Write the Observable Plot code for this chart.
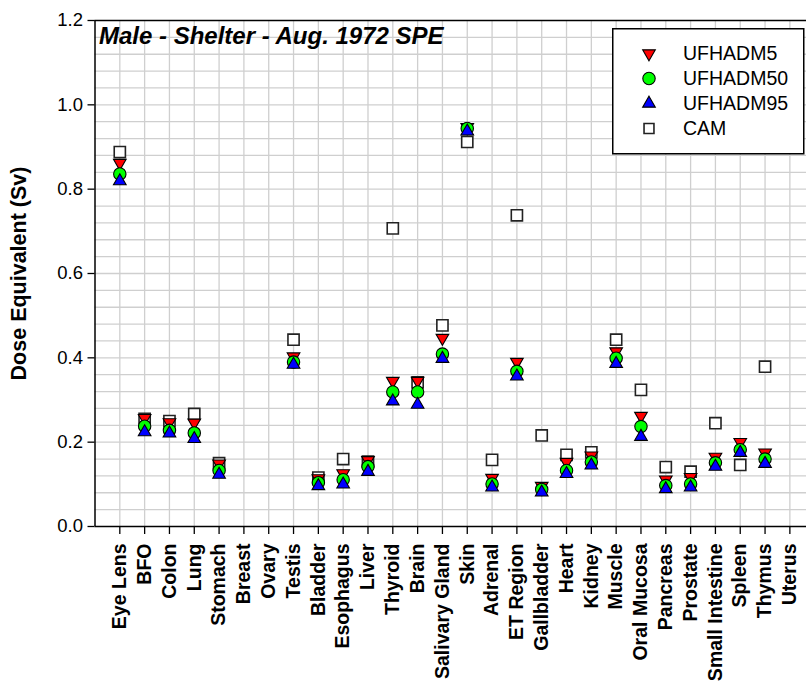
<!DOCTYPE html>
<html><head><meta charset="utf-8">
<script src="https://cdn.jsdelivr.net/npm/d3@7"></script>
<script src="https://cdn.jsdelivr.net/npm/@observablehq/plot@0.6"></script>
<style>
body{margin:0;background:#fff;font-family:Arial,"Liberation Sans",sans-serif;}
#wrap{position:relative;width:806px;height:681px;overflow:hidden;}
#legend{position:absolute;left:612px;top:28px;}
</style></head><body><div id="wrap"></div>
<script>
const organs = ["Eye Lens","BFO","Colon","Lung","Stomach","Breast","Ovary","Testis","Bladder","Esophagus","Liver","Thyroid","Brain","Salivary Gland","Skin","Adrenal","ET Region","Gallbladder","Heart","Kidney","Muscle","Oral Mucosa","Pancreas","Prostate","Small Intestine","Spleen","Thymus","Uterus"];
const ufhadm5  = [0.862,0.257,0.247,0.246,0.149,null,null,0.403,0.114,0.126,0.157,0.345,0.345,0.447,0.947,0.115,0.390,0.096,0.153,0.168,0.415,0.262,0.111,0.117,0.165,0.200,0.175,null];
const ufhadm50 = [0.836,0.238,0.228,0.222,0.133,null,null,0.390,0.104,0.111,0.142,0.319,0.319,0.409,0.944,0.101,0.368,0.088,0.133,0.153,0.399,0.237,0.097,0.101,0.151,0.182,0.160,null];
const ufhadm95 = [0.819,0.224,0.221,0.208,0.123,null,null,0.384,0.096,0.100,0.130,0.297,0.289,0.398,0.937,0.093,0.356,0.081,0.125,0.145,0.386,0.213,0.089,0.093,0.142,0.175,0.149,null];
const cam      = [0.888,0.255,0.250,0.267,0.150,null,null,0.443,0.116,0.160,0.154,0.707,0.342,0.477,0.912,0.158,0.738,0.216,0.170,0.176,0.443,0.324,0.141,0.130,0.245,0.146,0.379,null];
const seriesNames = ["UFHADM5","UFHADM50","UFHADM95","CAM"];
const yTicks = [0,0.2,0.4,0.6,0.8,1.0,1.2];
const yGrid = d3.range(1,30).map(i => i*0.04);
const title = "Male - Shelter - Aug. 1972 SPE";
const yTitle = "Dose Equivalent (Sv)";

const FONT = 'Arial, "Liberation Sans", sans-serif';
const xDomain = [-1, 27.67];
const yDomain = [0, 1.2];

const triDown = {draw(ctx, size){const h=Math.sqrt(size/(3*Math.sqrt(3)));const w=Math.sqrt(3)*h;ctx.moveTo(0,2*h);ctx.lineTo(w,-h);ctx.lineTo(-w,-h);ctx.closePath();}};

const rows = (vals) => organs.map((o,i)=>({i, v: vals[i]})).filter(d => d.v != null);

const styles = [
  {vals: cam, symbol: "square", r: 6.3, fill: "white", stroke: "#222", strokeWidth: 1.6},
  {vals: ufhadm5, symbol: triDown, r: 4.7, fill: "#ff0000", stroke: "#000", strokeWidth: 1.1},
  {vals: ufhadm50, symbol: "circle", r: 6.2, fill: "#00ff00", stroke: "#000", strokeWidth: 1.1},
  {vals: ufhadm95, symbol: "triangle", r: 4.7, fill: "#0000ff", stroke: "#000", strokeWidth: 1.1}
];

const plot = Plot.plot({
  width: 806, height: 681,
  marginLeft: 94.5, marginRight: 0, marginTop: 20, marginBottom: 155,
  style: {fontFamily: FONT, background: "white"},
  x: {type: "linear", domain: xDomain, axis: null},
  y: {domain: yDomain, axis: null},
  marks: [
    Plot.ruleX(d3.range(0, 28), {stroke: "#cfcfcf", strokeWidth: 1.3}),
    Plot.ruleY(yGrid, {stroke: "#cfcfcf", strokeWidth: 1.3}),
    Plot.axisY({ticks: yTicks, tickFormat: d3.format(".1f"), tickSize: 7, tickPadding: 5, fontSize: 18.5, label: null, stroke: "#000", strokeWidth: 1.3, color: "#000"}),
    Plot.axisX({ticks: d3.range(0, 28), tickFormat: i => organs[i], tickRotate: -90, tickSize: 8, tickPadding: 9, fontSize: 19.5, fontWeight: "bold", label: null, stroke: "#000", strokeWidth: 1.3}),
    Plot.ruleX([xDomain[0]], {stroke: "#000", strokeWidth: 1.5}),
    Plot.ruleY([yDomain[0], yDomain[1]], {stroke: "#000", strokeWidth: 1.5}),
    ...styles.map(s => Plot.dot(rows(s.vals), {x: "i", y: "v", symbol: s.symbol, r: s.r, fill: s.fill, stroke: s.stroke, strokeWidth: s.strokeWidth})),
    Plot.text([title], {frameAnchor: "top-left", dx: 4, dy: 6, lineAnchor: "top", textAnchor: "start", fontSize: 24, fontWeight: "bold", fontStyle: "italic", fill: "#000"}),
    Plot.text([yTitle], {frameAnchor: "left", rotate: -90, dx: -76, textAnchor: "middle", fontSize: 21.5, fontWeight: "bold", fill: "#000"})
  ]
});
const wrap = document.getElementById("wrap");
wrap.appendChild(plot);

// legend
const legSvg = d3.create("svg").attr("id","legend").attr("width",193).attr("height",127);
legSvg.append("rect").attr("x",0.75).attr("y",0.75).attr("width",191).attr("height",125).attr("fill","white").attr("stroke","#000").attr("stroke-width",1.5);
const legendItems = [
  {name: seriesNames[0], sym: triDown, r: 4.7, fill: "#ff0000", stroke: "#000", sw: 1.1},
  {name: seriesNames[1], sym: d3.symbolCircle, r: 6.2, fill: "#00ff00", stroke: "#000", sw: 1.1},
  {name: seriesNames[2], sym: d3.symbolTriangle, r: 4.7, fill: "#0000ff", stroke: "#000", sw: 1.1},
  {name: seriesNames[3], sym: d3.symbolSquare, r: 5.6, fill: "white", stroke: "#222", sw: 1.6}
];
legendItems.forEach((it, k) => {
  const g = legSvg.append("g").attr("transform", `translate(37,${25.5 + k*25})`);
  g.append("path").attr("d", d3.symbol(it.sym, Math.PI*it.r*it.r)()).attr("fill", it.fill).attr("stroke", it.stroke).attr("stroke-width", it.sw);
  legSvg.append("text").attr("x", 71).attr("y", 25.5 + k*25).attr("dy","0.35em").attr("font-family", FONT).attr("font-size", 19.5).text(it.name);
});
wrap.appendChild(legSvg.node());
</script>
</body></html>
